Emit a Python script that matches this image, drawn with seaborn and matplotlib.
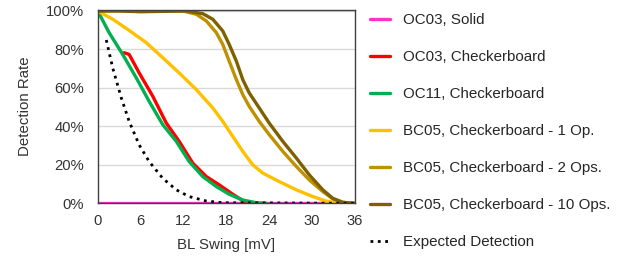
import numpy as np
import pandas as pd
import seaborn as sns
import matplotlib.pyplot as plt
from matplotlib.ticker import PercentFormatter

# values (x in mV, y in %)
solid_x = [0, 36]
solid_y = [0, 0]

oc03_x = [3.7, 4.4, 5.8, 7.7, 9.6, 11.4, 13.3, 15.2, 17.0, 18.9, 20.3, 21.0]
oc03_y = [78.3, 77.4, 67.8, 55.7, 41.7, 32.2, 20.9, 13.9, 9.6, 4.7, 1.4, 0]

oc11_x = [0, 1.6, 3.5, 5.4, 7.2, 9.1, 11.0, 12.8, 14.7, 16.6, 18.4, 20.3, 22.2, 23.6]
oc11_y = [100, 88.7, 77.4, 65.2, 53, 40.9, 32.2, 21.7, 13.9, 8.7, 4.7, 1.7, 0.3, 0]

bc1_x = [0, 2.1, 4.4, 6.8, 9.1, 11.4, 13.8, 16.1, 17.5, 18.9, 20.3, 21.7, 23.1,
         25.4, 27.8, 30.1, 31.9, 33.3, 36]
bc1_y = [100, 95.7, 89.9, 83.5, 75.7, 67.8, 59.1, 49.6, 42.6, 34.8, 27, 20, 15.7,
         11.3, 7, 3.5, 1.2, 0.3, 0]

bc2_x = [0, 6, 11.9, 13.8, 15.2, 16.6, 17.5, 18.4, 19.4, 20.3, 21.2, 22.6, 24.0,
         25.9, 27.8, 29.6, 31.5, 32.9, 34.3, 36]
bc2_y = [100, 100, 100, 98.3, 94.8, 88.7, 82.6, 73.9, 64.3, 56.5, 50.4, 42.6, 35.7,
         27, 19.1, 12.2, 6.1, 2.3, 0.5, 0]

bc10_x = [0, 3, 6, 9, 12.4, 14.7, 16.1, 17.5, 18.4, 19.4, 20.3, 21.2, 22.6, 24.0,
          25.9, 27.8, 29.6, 31.5, 32.9, 34.3, 36]
bc10_y = [100, 100, 99.6, 99.8, 100, 98.6, 95.7, 89.6, 82.6, 73.9, 64.3, 57.4, 49.6, 41.7,
          32.2, 23.5, 14.8, 7, 2.6, 0.5, 0]

exp_x = [1.2, 2.1, 3.3, 4.4, 5.8, 7.2, 9.1, 11.0, 12.8, 15.2, 17.5, 36]
exp_y = [84.9, 70.4, 54.8, 42.6, 30.4, 21.7, 13, 7, 3.5, 1.2, 0.3, 0]

series = [
    ("OC03, Solid", solid_x, solid_y, "#FF33CC", "-"),
    ("OC03, Checkerboard", oc03_x, oc03_y, "#FF0000", "-"),
    ("OC11, Checkerboard", oc11_x, oc11_y, "#00B050", "-"),
    ("BC05, Checkerboard - 1 Op.", bc1_x, bc1_y, "#FFC000", "-"),
    ("BC05, Checkerboard - 2 Ops.", bc2_x, bc2_y, "#BF9000", "-"),
    ("BC05, Checkerboard - 10 Ops.", bc10_x, bc10_y, "#7F6000", "-"),
    ("Expected Detection", exp_x, exp_y, "black", ":"),
]

sns.set_style("white")
plt.rcParams["font.family"] = ["Liberation Sans", "DejaVu Sans"]

fig = plt.figure(figsize=(6.32, 2.60), dpi=100)
ax = fig.add_axes([0.1546, 0.218, 0.4071, 0.7435])

for name, xs, ys, col, ls in series:
    df = pd.DataFrame({"x": xs, "y": ys})
    lw = 2.0 if ls == ":" else 2.4
    sns.lineplot(data=df, x="x", y="y", ax=ax, color=col, linestyle=ls,
                 linewidth=lw, label=name, sort=False,
                 solid_joinstyle="round", solid_capstyle="round")

ax.set_xlim(0, 36)
ax.set_ylim(0, 100.5)
ax.set_xticks(np.arange(0, 37, 6))
ax.set_yticks(np.arange(0, 101, 20))
ax.yaxis.set_major_formatter(PercentFormatter(decimals=0))
ax.yaxis.grid(True, color="#D9D9D9", linewidth=1)
ax.set_axisbelow(True)
for sp in ax.spines.values():
    sp.set_color("#404040")
    sp.set_linewidth(1)
ax.tick_params(axis="both", length=0, labelsize=10.6, colors="#333333")
ax.tick_params(axis="y", pad=10)
ax.tick_params(axis="x", pad=8)
ax.set_xlabel("BL Swing [mV]", fontsize=10.8, color="#333333", labelpad=7)
ax.set_ylabel("Detection Rate", fontsize=10.8, color="#333333", labelpad=10)

ax.legend(loc="center left", bbox_to_anchor=(0.5854, 0.496),
          bbox_transform=fig.transFigure, frameon=False, fontsize=10.9,
          handlelength=1.3, handletextpad=0.9, labelspacing=1.52,
          borderpad=0, borderaxespad=0)

fig.savefig("out.png", dpi=100)
